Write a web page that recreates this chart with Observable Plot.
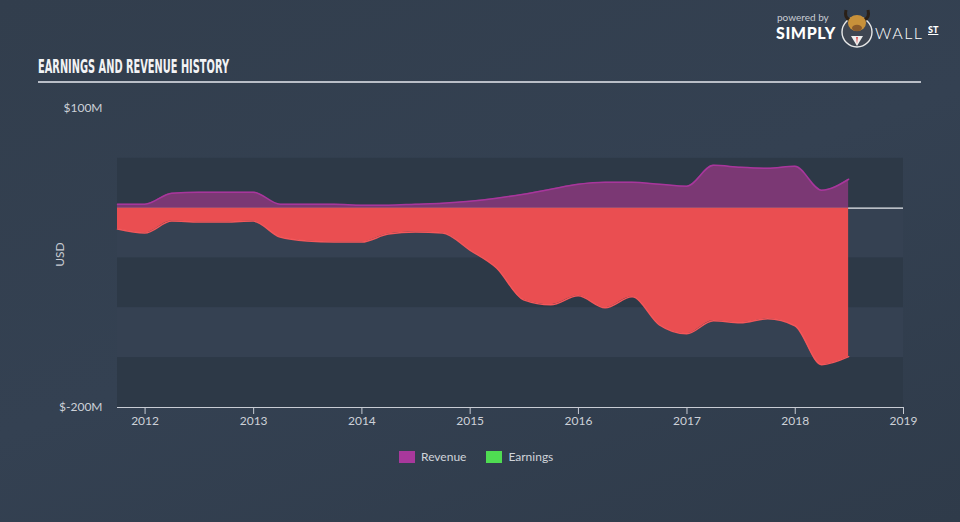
<!DOCTYPE html>
<html>
<head>
<meta charset="utf-8">
<script src="https://cdn.jsdelivr.net/npm/d3@7"></script>
<script src="https://cdn.jsdelivr.net/npm/@observablehq/plot@0.6"></script>
<style>
  html, body { margin: 0; padding: 0; }
  body { width: 960px; height: 522px; overflow: hidden; background: linear-gradient(160deg, #323e4d 0%, #344152 50%, #2f3b4a 100%); font-family: Lato, "Open Sans", sans-serif; position: relative; }
  #title { position: absolute; left: 38px; top: 55px; color: #f2f3f5; font-family: "Liberation Sans Narrow", "DejaVu Sans Condensed", sans-serif; font-weight: bold; font-size: 19px; white-space: nowrap; transform-origin: left top; }
  #rule { position: absolute; left: 38px; top: 81px; width: 883px; height: 2px; background: #b9bec7; }
  #usd { position: absolute; left: 44px; top: 247px; color: #c9cdd4; font-size: 12px; transform: rotate(-90deg); transform-origin: center; width: 30px; text-align: center; }
  #chart { position: absolute; left: 0; top: 0; }
  #legend { position: absolute; top: 449px; left: 399px; display: flex; align-items: center; color: #d0d4da; font-size: 12px; }
  .sw { width: 16px; height: 12px; display: inline-block; margin-right: 6px; }
  .item { display: flex; align-items: center; margin-right: 20px; }
  #logo { position: absolute; left: 776px; top: 10px; color: #fff; }
  #pb { position: absolute; left: 1px; top: 1px; font-size: 10px; color: #c9cdd4; white-space: nowrap; }
  #simply { position: absolute; left: 0px; top: 13px; font-size: 16px; font-weight: 900; letter-spacing: 0.6px; white-space: nowrap; }
  #wall { position: absolute; left: 99px; top: 13px; font-size: 16px; font-weight: 300; letter-spacing: 1.5px; white-space: nowrap; }
  #st { position: absolute; left: 152px; top: 14px; font-size: 9px; font-weight: 900; text-decoration: underline; white-space: nowrap; }
  #bull { position: absolute; left: 64px; top: -10px; width: 34px; height: 48px; }
</style>
</head>
<body>
<div id="title">EARNINGS AND REVENUE HISTORY</div>
<div id="rule"></div>
<div id="chart"></div>
<div id="usd">USD</div>
<div id="legend">
  <div class="item"><span class="sw" style="background:#a8389c"></span>Revenue</div>
  <div class="item"><span class="sw" style="background:#4fdc52"></span>Earnings</div>
</div>
<div id="logo">
  <div id="pb">powered by</div>
  <div id="simply">SIMPLY</div>
  <svg id="bull" viewBox="0 0 34 48">
    <circle cx="17" cy="32" r="15" fill="#3f4652" stroke="#e8e8e8" stroke-width="1.4"/>
    <path d="M6 10 Q4 18 10 20 M28 10 Q30 18 24 20" stroke="#2a2018" stroke-width="3" fill="none"/>
    <ellipse cx="17" cy="23" rx="9" ry="8" fill="#c8913a"/>
    <ellipse cx="17" cy="28" rx="5" ry="3.2" fill="#8a5a2a"/>
    <path d="M11 36 L17 46 L23 36 Z" fill="#eee"/>
    <path d="M16.2 37 L17 44 L17.8 37 Z" fill="#d33"/>
  </svg>
  <div id="wall">WALL</div>
  <div id="st">ST</div>
</div>
<script>
const dates = ["2011-09-30","2011-12-31","2012-03-31","2012-06-30","2012-09-30","2012-12-31",
  "2013-03-31","2013-06-30","2013-09-30","2013-12-31","2014-03-31","2014-06-30","2014-09-30","2014-12-31",
  "2015-03-31","2015-06-30","2015-09-30","2015-12-31","2016-03-31","2016-06-30","2016-09-30","2016-12-31",
  "2017-03-31","2017-06-30","2017-09-30","2017-12-31","2018-03-31","2018-06-30"];
const revenue = [4, 4, 15, 16, 16, 16, 4, 4, 4, 3, 3, 4, 5, 7, 10, 14, 19, 24, 26, 26, 24, 22, 43, 41, 40, 42, 18, 29];
const earnings = [-21, -25, -13, -14, -14, -13, -29, -33, -34, -34, -26, -24, -25, -42, -60, -92, -97, -88, -100, -89, -117, -126, -113, -115, -111, -118, -157, -149];
const yTicks = [100, -200];
const xTicks = ["2012","2013","2014","2015","2016","2017","2018","2019"];
const bandEdges = [50, 0, -50, -100, -150, -200];

const parse = d3.utcParse("%Y-%m-%d");
const rev = dates.map((d, i) => ({date: parse(d), value: revenue[i]}));
const earn = dates.map((d, i) => ({date: parse(d), value: earnings[i]}));
const x0 = parse("2011-09-30"), x1 = parse("2019-01-01");
const bands = bandEdges.slice(0, -1).map((t, i) => ({top: t, bottom: bandEdges[i + 1], dark: i % 2 === 0}));

const chart = Plot.plot({
  width: 960,
  height: 440,
  marginLeft: 117,
  marginRight: 57,
  marginTop: 108,
  marginBottom: 33,
  style: {background: "transparent", color: "#cdd1d8", fontSize: "12px", fontFamily: "Lato, 'Open Sans', sans-serif"},
  x: {type: "utc", domain: [x0, x1]},
  y: {domain: [-200, 100]},
  marks: [
    Plot.rect(bands, {x1: () => x0, x2: () => x1, y1: "top", y2: "bottom", fill: d => d.dark ? "#2d3947" : "#354152"}),
    Plot.ruleY([0], {stroke: "#e6e8ec", strokeWidth: 1.2}),
    Plot.areaY(rev, {x: "date", y: "value", fill: "#7b3874", curve: "monotone-x"}),
    Plot.lineY(rev, {x: "date", y: "value", stroke: "#a8369c", strokeWidth: 1.5, curve: "monotone-x"}),
    Plot.areaY(earn, {x: "date", y: "value", fill: "#ea4e51", curve: "monotone-x"}),
    Plot.lineY(earn, {x: "date", y: "value", stroke: "#f4575a", strokeWidth: 1.5, curve: "monotone-x"}),
    Plot.ruleY([-200], {stroke: "#c8ccd4", strokeWidth: 1.2}),
    Plot.axisX({ticks: xTicks.map(t => parse(t + "-01-01")), tickFormat: d3.utcFormat("%Y"), tickSize: 7, tickPadding: 2, stroke: "#c8ccd4", label: null}),
    Plot.axisY({ticks: yTicks, tickFormat: d => "$" + d + "M", tickSize: 0, tickPadding: 15, label: null})
  ]
});
document.getElementById("chart").appendChild(chart);

const t = document.getElementById("title");
const w = t.getBoundingClientRect().width;
t.style.transform = `scaleX(${191 / w})`;
</script>
</body>
</html>
